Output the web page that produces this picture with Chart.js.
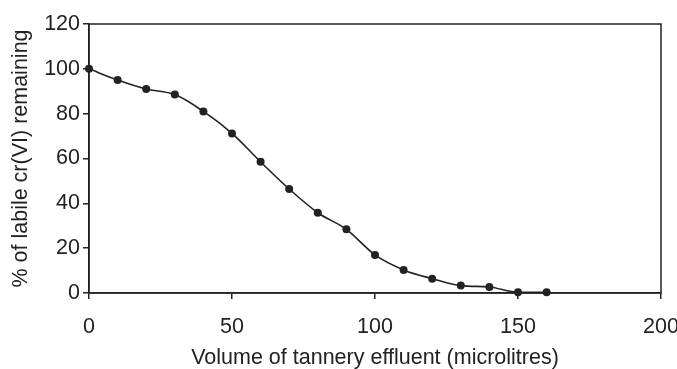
<!DOCTYPE html>
<html>
<head>
<meta charset="utf-8">
<script src="https://cdn.jsdelivr.net/npm/chart.js@4"></script>
<style>
  html, body { margin: 0; padding: 0; background: #fff; }
  #wrap { width: 677px; height: 369px; }
</style>
</head>
<body>
<div id="wrap"><canvas id="myChart"></canvas></div>
<script>
// volume of effluent (microlitres) and % labile Cr(VI) remaining
const volumes = [0, 10, 20, 30, 40, 50, 60, 70, 80, 90, 100, 110, 120, 130, 140, 150, 160];
const remaining = [100, 95, 91, 88.5, 81, 71.2, 58.5, 46.4, 35.8, 28.4, 17, 10.3, 6.4, 3.3, 2.7, 0.3, 0.3];
const xTicks = [0, 50, 100, 150, 200];
const yTicks = [0, 20, 40, 60, 80, 100, 120];

const ink = '#222';
const font = { family: 'Liberation Sans, Arial, sans-serif', size: 21.5 };

// box around the plot area
const frame = {
    id: 'frame',
    afterDraw(chart) {
        const a = chart.chartArea;
        const ctx = chart.ctx;
        ctx.save();
        ctx.strokeStyle = ink;
        ctx.lineWidth = 1.5;
        ctx.strokeRect(a.left, a.top, a.right - a.left, a.bottom - a.top);
        ctx.restore();
    }
};

const points = volumes.map((v, i) => ({ x: v, y: remaining[i] }));

const ctx = document.getElementById('myChart').getContext('2d');
new Chart(ctx, {
    type: 'scatter',
    data: {
        datasets: [{
            data: points,
            showLine: true,
            borderColor: ink,
            borderWidth: 1.6,
            backgroundColor: ink,
            pointRadius: 4,
            pointBorderWidth: 0,
            cubicInterpolationMode: 'monotone',
            clip: false
        }]
    },
    options: {
        responsive: true,
        maintainAspectRatio: false,
        animation: false,
        layout: { padding: { left: 8, right: 16, top: 24, bottom: 0 } },
        plugins: {
            legend: { display: false },
            tooltip: { enabled: false }
        },
        scales: {
            x: {
                type: 'linear',
                min: 0,
                max: 200,
                afterBuildTicks: (axis) => { axis.ticks = xTicks.map(v => ({ value: v })); },
                afterFit: (axis) => { axis.height = 76; axis.paddingLeft = 0; axis.paddingRight = 0; },
                grid: { display: true, drawOnChartArea: false, drawTicks: true, tickLength: 6, color: ink, lineWidth: 1.5 },
                border: { display: true, color: ink, width: 1.5 },
                ticks: { color: ink, font: font, padding: 15, maxRotation: 0 },
                title: { display: true, text: 'Volume of tannery effluent (microlitres)', color: ink, font: { family: font.family, size: font.size, lineHeight: 1.0 }, padding: 0 }
            },
            y: {
                min: 0,
                max: 120,
                afterBuildTicks: (axis) => { axis.ticks = yTicks.map(v => ({ value: v })); },
                afterFit: (axis) => { axis.width = 81; axis.paddingTop = 0; axis.paddingBottom = 0; },
                grid: { display: true, drawOnChartArea: false, drawTicks: true, tickLength: 6, color: ink, lineWidth: 1.5 },
                border: { display: true, color: ink, width: 1.5 },
                ticks: { color: ink, font: font, padding: 3 },
                title: { display: true, text: '% of labile cr(VI) remaining', color: ink, font: font, padding: 0 }
            }
        }
    },
    plugins: [frame]
});
</script>
</body>
</html>
